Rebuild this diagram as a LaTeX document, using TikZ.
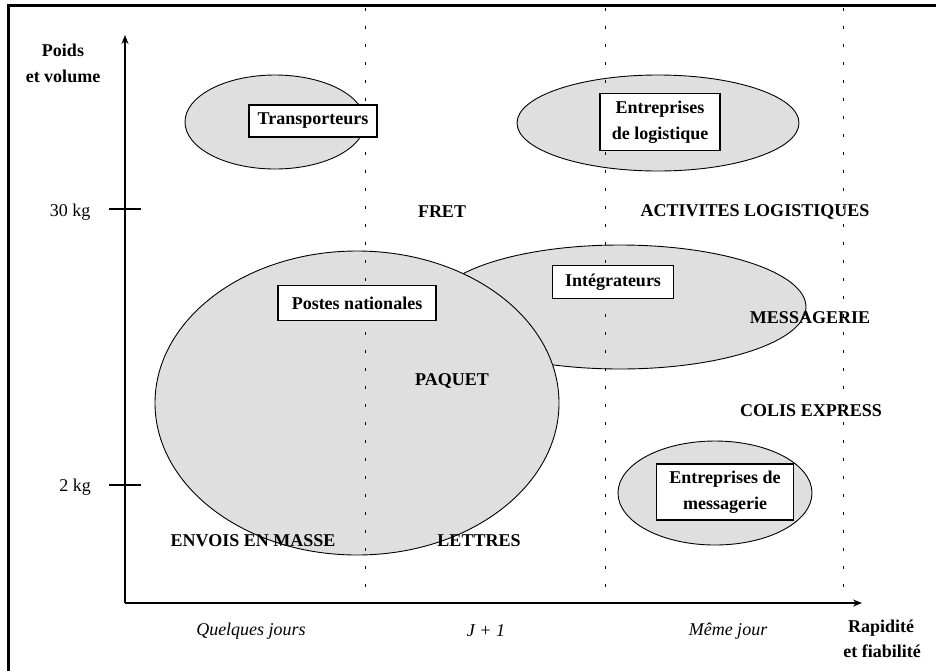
\documentclass[tikz,border=0pt]{standalone}
\usepackage{fontspec}
\setmainfont{Liberation Serif}
\usetikzlibrary{arrows.meta}
\begin{document}
\begin{tikzpicture}[x=1pt,y=-1pt,
  txt/.style={font=\fontsize{18}{26}\selectfont\bfseries, align=center, inner sep=0pt},
  itxt/.style={font=\fontsize{18}{26}\selectfont\itshape, inner sep=0pt},
  blob/.style={fill=gray!25, draw=black, line width=0.9pt},
  lbox/.style={draw=black, fill=white, line width=1.2pt, font=\fontsize{18}{26}\selectfont\bfseries, align=center, inner sep=0pt},
  vguide/.style={line width=1pt, dash pattern=on 3pt off 15pt},
  axis/.style={line width=1.2pt, -{Stealth[length=9pt,width=7pt]}}]
\useasboundingbox (0,0) rectangle (936,670);
% frame
\draw[line width=3pt] (8,672) -- (8,5) -- (940,5);
% ellipses
\path[blob] (275,122) ellipse [x radius=90, y radius=47];
\path[blob] (658,123) ellipse [x radius=141, y radius=48];
\path[blob] (620,307) ellipse [x radius=186, y radius=62];
\path[blob] (357,403) ellipse [x radius=202, y radius=152];
\path[blob] (715,493) ellipse [x radius=97, y radius=52];
% guides
\coordinate (g1t) at (365,8); \coordinate (g1b) at (365,598);
\coordinate (g2t) at (605,8); \coordinate (g2b) at (605,598);
\coordinate (g3t) at (843,8); \coordinate (g3b) at (843,598);
\draw[vguide] (g1t) -- (g1b);
\draw[vguide] (g2t) -- (g2b);
\draw[vguide] (g3t) -- (g3b);
% axes
\coordinate (o) at (125,603);
\coordinate (ytip) at (125,35);
\coordinate (xtip) at (862,603);
\draw[axis] (o) -- (ytip);
\draw[axis] (o) -- (xtip);
\coordinate (t30a) at (109,209); \coordinate (t30b) at (141,209);
\coordinate (t2a) at (109,485); \coordinate (t2b) at (141,485);
\draw[line width=1.2pt] (t30a) -- (t30b);
\draw[line width=1.2pt] (t2a) -- (t2b);
% boxes
\node[lbox, minimum width=128pt, minimum height=32pt] (transp) at (313,121) {Transporteurs};
\node[lbox, minimum width=120pt, minimum height=57pt] (logi) at (660,122) {Entreprises\\de logistique};
\node[lbox, minimum width=158pt, minimum height=35pt] (postes) at (357,303) {Postes nationales};
\node[lbox, minimum width=121pt, minimum height=33pt] (integ) at (613,282) {Intégrateurs};
\node[lbox, minimum width=137pt, minimum height=56pt] (messag) at (725,492) {Entreprises de\\messagerie};
% labels
\node[txt] (fret) at (442,212) {FRET};
\node[txt] (actlog) at (755,212) {ACTIVITES LOGISTIQUES};
\node[txt] (mess) at (810,318) {MESSAGERIE};
\node[txt] (paquet) at (452,381) {PAQUET};
\node[txt] (colis) at (811,411) {COLIS EXPRESS};
\node[txt] (envois) at (253,541) {ENVOIS EN MASSE};
\node[txt] (lettres) at (479,541) {LETTRES};
% axis labels
\node[txt] (poids) at (63,50) {Poids};
\node[txt] (volume) at (63,76) {et volume};
\node[txt] (rapid) at (881,628) {Rapidité};
\node[txt] (fiab) at (882,651) {et fiabilité};
\node[font=\fontsize{18}{26}\selectfont, inner sep=0pt] (kg30) at (70,212) {30 kg};
\node[font=\fontsize{18}{26}\selectfont, inner sep=0pt] (kg2) at (75,487) {2 kg};
\node[itxt] (quelq) at (251,631) {Quelques jours};
\node[itxt] (j1) at (486,631) {J + 1};
\node[itxt] (meme) at (728,631) {Même jour};
\end{tikzpicture}
\end{document}
